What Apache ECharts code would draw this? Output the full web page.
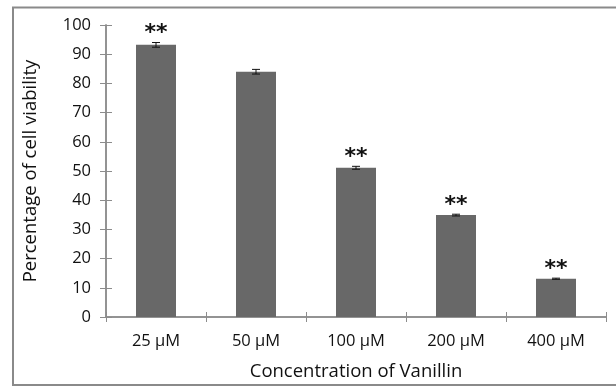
<!DOCTYPE html>
<html><head><meta charset="utf-8">
<script src="https://cdn.jsdelivr.net/npm/echarts@6/dist/echarts.min.js"></script>
<style>html,body{margin:0;padding:0;background:#fff}#c{width:616px;height:387px}</style>
</head><body><div id="c"></div>
<script>
const categories = ['25 µM', '50 µM', '100 µM', '200 µM', '400 µM'];
const viability = [93.2, 84.0, 51.1, 34.9, 13.1];
const errors = [0.8, 0.8, 0.5, 0.3, 0.2];
const marks = ['**', '', '**', '**', '**'];
const yTicks = [0, 10, 20, 30, 40, 50, 60, 70, 80, 90, 100];

const FONT = 'Open Sans';
const axisColor = '#8c8c8c';
const chart = echarts.init(document.getElementById('c'), null, {renderer: 'canvas'});
const catAxisBase = {
  type: 'category', data: categories, position: 'bottom',
  axisLine: {show: true, lineStyle: {color: axisColor, width: 1.5}},
  splitLine: {show: false}
};
const valAxisBase = {
  type: 'value', min: yTicks[0], max: yTicks[yTicks.length - 1], interval: 10,
  axisLine: {show: true, lineStyle: {color: axisColor, width: 1.5}},
  splitLine: {show: false}
};
chart.setOption({
  animation: false,
  backgroundColor: '#fff',
  graphic: [{
    type: 'rect', shape: {x: 13, y: 7.5, width: 620, height: 377.5},
    style: {fill: 'none', stroke: '#8a8a8a', lineWidth: 2}, z: -1
  }],
  grid: {left: 106, right: 10, top: 25, bottom: 70},
  xAxis: [
    Object.assign({}, catAxisBase, {
      name: 'Concentration of Vanillin', nameLocation: 'middle', nameGap: 45,
      nameTextStyle: {fontFamily: FONT, fontSize: 18.5, color: '#111'},
      axisTick: {show: true, length: 5, inside: false, lineStyle: {color: axisColor}},
      axisLabel: {fontFamily: FONT, fontSize: 16.5, color: '#111', margin: 16}
    }),
    Object.assign({}, catAxisBase, {
      axisTick: {show: true, length: 5, inside: true, lineStyle: {color: axisColor}},
      axisLabel: {show: false}
    })
  ],
  yAxis: [
    Object.assign({}, valAxisBase, {
      name: 'Percentage of cell viability', nameLocation: 'middle', nameGap: 66,
      nameTextStyle: {fontFamily: FONT, fontSize: 18.5, color: '#111'},
      axisTick: {show: true, length: 6, inside: false, lineStyle: {color: axisColor}},
      axisLabel: {fontFamily: FONT, fontSize: 16.5, color: '#111', margin: 15}
    }),
    Object.assign({}, valAxisBase, {
      position: 'left',
      axisTick: {show: true, length: 6, inside: true, lineStyle: {color: axisColor}},
      axisLabel: {show: false}
    })
  ],
  series: [
    {
      type: 'bar', data: viability, barWidth: '40%', xAxisIndex: 0, yAxisIndex: 0,
      itemStyle: {color: '#686868'}
    },
    {
      type: 'custom', xAxisIndex: 0, yAxisIndex: 0, z: 5,
      data: viability.map((v, i) => [i, v, errors[i], marks[i]]),
      renderItem: function (params, api) {
        const x = api.coord([api.value(0), 0])[0];
        const v = api.value(1), e = api.value(2);
        const top = api.coord([api.value(0), v + e])[1];
        const bot = api.coord([api.value(0), v - e])[1];
        const cap = 4;
        const st = {stroke: '#111', lineWidth: 1};
        const children = [
          {type: 'line', shape: {x1: x, y1: top, x2: x, y2: bot}, style: st},
          {type: 'line', shape: {x1: x - cap, y1: top, x2: x + cap, y2: top}, style: st},
          {type: 'line', shape: {x1: x - cap, y1: bot, x2: x + cap, y2: bot}, style: st}
        ];
        const m = marks[params.dataIndex];
        if (m) {
          children.push({type: 'text', x: x, y: top + 2,
            style: {text: m, fontFamily: 'DejaVu Sans', fontSize: 22, fontWeight: 'bold',
              fill: '#111', align: 'center', verticalAlign: 'bottom'}});
        }
        return {type: 'group', children: children};
      }
    }
  ]
});
</script></body></html>
